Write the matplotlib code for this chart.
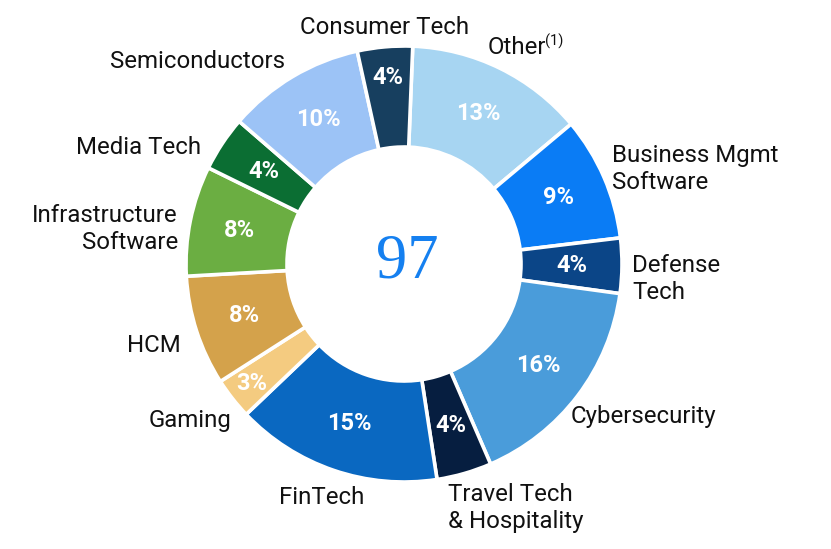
import matplotlib
matplotlib.use("Agg")
import matplotlib.pyplot as plt
import numpy as np

W, H = 831, 549

# sector mix, clockwise from the top
sectors = ["Other", "Business Mgmt\nSoftware", "Defense\nTech", "Cybersecurity",
           "Travel Tech\n& Hospitality", "FinTech", "Gaming", "HCM",
           "Infrastructure\nSoftware", "Media Tech", "Semiconductors", "Consumer Tech"]
shares = [13, 9, 4, 16, 4, 15, 3, 8, 8, 4, 10, 4]
total_count = 97

colors = ["#A7D5F2", "#0A7CF5", "#0B4587", "#4A9CDA", "#061E40", "#0A68C1",
          "#F4CB80", "#D4A24B", "#6BAE42", "#0B6E33", "#9CC3F6", "#173F5F"]

# label anchors in pixel coords (x, y from top, ha)
label_pos = {
    "Other": (488, 47, "left"),
    "Business Mgmt\nSoftware": (612, 169, "left"),
    "Defense\nTech": (632, 279, "left"),
    "Cybersecurity": (571, 416, "left"),
    "Travel Tech\n& Hospitality": (448, 508, "left"),
    "FinTech": (322, 497, "center"),
    "Gaming": (231, 420, "right"),
    "HCM": (181, 345, "right"),
    "Infrastructure\nSoftware": (178, 229, "right"),
    "Media Tech": (201, 147, "right"),
    "Semiconductors": (285, 62, "right"),
    "Consumer Tech": (385, 27, "center"),
}
# narrow wedges get their value pushed outward a bit
pct_radius = {"Consumer Tech": 187, "Gaming": 194}

cx, cy = 404, H - 264
r_out, ring = 218, 101

plt.rcParams["font.family"] = ["Roboto", "DejaVu Sans"]
fig = plt.figure(figsize=(W / 100, H / 100), dpi=100)
ax = fig.add_axes([0, 0, 1, 1])

wedges, _ = ax.pie(shares, colors=colors, startangle=87.7, counterclock=False,
                   radius=r_out, center=(cx, cy),
                   wedgeprops=dict(width=ring, edgecolor="white", linewidth=2.6))
ax.set_xlim(0, W)
ax.set_ylim(0, H)
ax.set_aspect("equal")
ax.axis("off")

for w, name, v in zip(wedges, sectors, shares):
    mid = np.deg2rad((w.theta1 + w.theta2) / 2)
    r = pct_radius.get(name, 168)
    ax.text(cx + r * np.cos(mid), cy + r * np.sin(mid), f"{v}%",
            ha="center", va="center", color="white", fontsize=17, fontweight="bold")
    x, y, ha = label_pos[name]
    ax.text(x, H - y, name, ha=ha, va="center", fontsize=17.3, color="#111111",
            linespacing=1.22)

ax.text(545, H - 41, "(1)", ha="left", va="center", fontsize=10.5, color="#111111")

ax.text(407, H - 262, str(total_count), ha="center", va="center",
        fontsize=45, color="#1580F0", family="Liberation Serif")

fig.savefig("out.png", dpi=100)
